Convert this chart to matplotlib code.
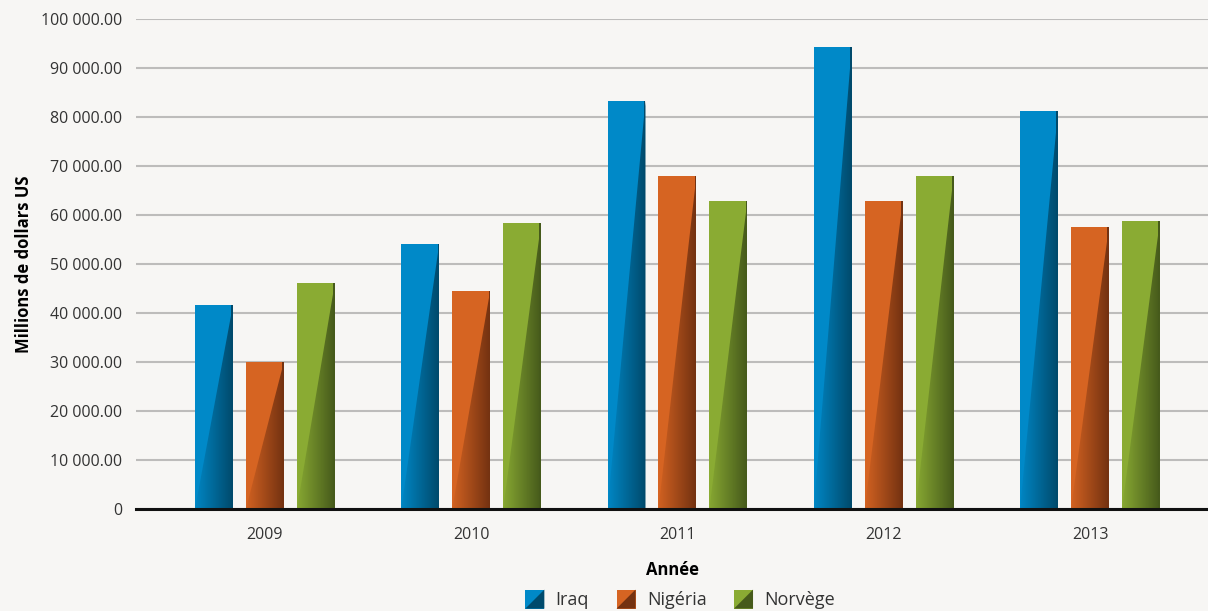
import numpy as np
import matplotlib.pyplot as plt
from matplotlib.patches import Polygon, Rectangle
from matplotlib.colors import LinearSegmentedColormap
from matplotlib.legend_handler import HandlerBase

plt.rcParams['font.family'] = ['Open Sans', 'DejaVu Sans']

years = ['2009', '2010', '2011', '2012', '2013']
iraq = [41600, 54100, 83300, 94300, 81200]
nigeria = [30000, 44500, 68000, 62900, 57600]
norvege = [46100, 58400, 62900, 68000, 58800]

series = [
    ('Iraq', iraq, '#0089c8', '#004a6c'),
    ('Nigéria', nigeria, '#d66422', '#743211'),
    ('Norvège', norvege, '#8aab33', '#465a1b'),
]

BG = '#f7f6f4'
fig = plt.figure(figsize=(12.08, 6.11), dpi=100, facecolor=BG)
ax = fig.add_axes([136 / 1208, 1 - 509 / 611, 1 - 136 / 1208, 490 / 611])
ax.set_facecolor(BG)

x = np.arange(len(years))
width = 0.184
step = 0.247

for i, (name, vals, base, dark) in enumerate(series):
    bars = ax.bar(x + (i - 1) * step, vals, width, color=base, zorder=3, linewidth=0)
    cmap = LinearSegmentedColormap.from_list(name, [base, dark])
    for b in bars:
        x0, x1, h = b.get_x(), b.get_x() + b.get_width(), b.get_height()
        # lower-right triangle shaded left->right for the bevel look
        tri = Polygon([(x0, 0), (x1, h), (x1, 0)], closed=True, transform=ax.transData,
                      facecolor='none', edgecolor='none')
        ax.add_patch(tri)
        grad = np.linspace(0.05, 1, 64).reshape(1, -1)
        im = ax.imshow(grad, cmap=cmap, vmin=0, vmax=1, extent=(x0, x1, 0, h),
                       aspect='auto', zorder=4, interpolation='bilinear')
        im.set_clip_path(tri)
        ax.add_patch(Rectangle((x1 - 0.008, 0), 0.008, h, facecolor=dark,
                               edgecolor='none', zorder=5))

ax.set_xlim(-0.625, 4.572)
ax.set_ylim(0, 100000)
ax.set_yticks(np.arange(0, 100001, 10000))
ax.set_yticklabels(['0'] + [f'{v:,.2f}'.replace(',', ' ') for v in range(10000, 100001, 10000)],
                   fontsize=11.5, color='#333333')
ax.set_xticks(x)
ax.set_xticklabels(years, fontsize=11.5, color='#333333')
ax.tick_params(axis='both', length=0)
ax.tick_params(axis='y', pad=10)
ax.tick_params(axis='x', pad=13)
ax.yaxis.grid(True, color='#bdbcbb', linewidth=1.5, zorder=0)
ax.set_axisbelow(True)
for s in ['top', 'right', 'left']:
    ax.spines[s].set_visible(False)
ax.spines['bottom'].set_color('#111111')
ax.spines['bottom'].set_linewidth(2.2)
ax.spines['bottom'].set_zorder(6)

ax.set_ylabel('Millions de dollars US', fontsize=12, fontweight='bold', labelpad=6)
ax.set_xlabel('Année', fontsize=12, fontweight='bold', labelpad=13)


class BevelHandler(HandlerBase):
    def __init__(self, base, dark):
        super().__init__()
        self.base, self.dark = base, dark

    def create_artists(self, legend, orig_handle, xdescent, ydescent, width, height, fontsize, trans):
        s = height * 1.5
        y0 = -ydescent + (height - s) / 2
        x0 = -xdescent + (width - s) / 2
        sq = Rectangle((x0, y0), s, s, facecolor=self.base, edgecolor='none', transform=trans)
        tri = Polygon([(x0, y0), (x0 + s, y0 + s), (x0 + s, y0)], closed=True,
                      facecolor=self.dark, edgecolor='none', transform=trans)
        return [sq, tri]


handles = [Rectangle((0, 0), 1, 1) for _ in series]
hmap = {h: BevelHandler(base, dark) for h, (_, _, base, dark) in zip(handles, series)}
fig.legend(handles, [s[0] for s in series], handler_map=hmap, loc='lower center',
           bbox_to_anchor=(680 / 1208, -0.024), ncol=3, frameon=False, fontsize=13,
           handlelength=1.1, handletextpad=0.6, columnspacing=1.5,
           labelcolor='#333333')

fig.savefig('out.png', dpi=100, facecolor=BG)
